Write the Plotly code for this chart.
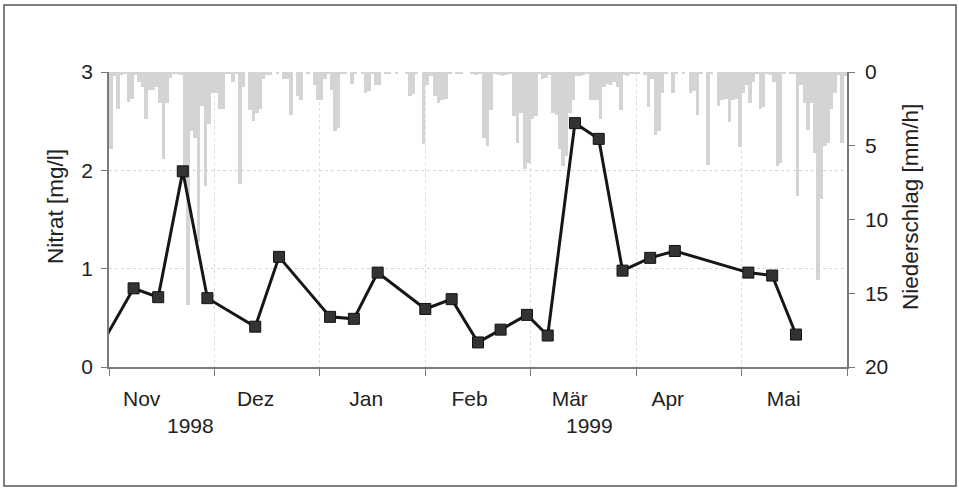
import calendar
import plotly.graph_objects as go

# ---------------- data ----------------
month_labels = ["Nov", "Dez", "Jan", "Feb", "Mär", "Apr", "Mai"]
month_list = [(1998, 11), (1998, 12), (1999, 1), (1999, 2), (1999, 3), (1999, 4), (1999, 5)]
month_label_pos = [0.31, 1.39, 2.44, 3.42, 4.37, 5.30, 6.40]
year_labels = ["1998", "1999"]
year_label_pos = [0.77, 4.56]
title_left = "Nitrat [mg/l]"
title_right = "Niederschlag [mm/h]"

sample_dates = [
    "1998-10-31", "1998-11-08", "1998-11-15", "1998-11-22", "1998-11-29",
    "1998-12-13", "1998-12-20", "1999-01-04", "1999-01-11", "1999-01-18",
    "1999-02-01", "1999-02-08", "1999-02-15", "1999-02-21", "1999-02-28",
    "1999-03-06", "1999-03-14", "1999-03-21", "1999-03-28", "1999-04-05",
    "1999-04-12", "1999-05-03", "1999-05-10", "1999-05-17",
]
nitrat = [
    0.30, 0.80, 0.71, 1.99, 0.70,
    0.41, 1.12, 0.51, 0.49, 0.96,
    0.59, 0.69, 0.25, 0.38, 0.53,
    0.32, 2.48, 2.32, 0.98, 1.11,
    1.18, 0.96, 0.93, 0.33,
]

# daily maximum precipitation intensity [mm/h]
precip_nov = [5.2, 0.3, 2.5, 0.2, 0.1, 2.0, 1.8, 0.2, 0.7, 1.0,
              3.2, 1.2, 1.2, 1.0, 2.1, 5.9, 2.1, 0.4, 0.1, 0.1,
              0.2, 6.4, 15.8, 4.0, 4.5, 11.5, 2.3, 7.7, 3.5, 1.4]
precip_dec = [1.4, 2.5, 2.5, 0.1, 0.1, 0.7, 0.1, 7.6, 1.0, 0.0,
              2.6, 3.3, 2.8, 2.5, 0.5, 0.2, 0.2, 0.0, 0.1, 0.0,
              0.5, 0.5, 2.9, 0.0, 1.6, 1.9, 0.0, 0.1, 0.0, 0.9, 1.9]
precip_jan = [1.9, 0.5, 0.1, 1.2, 4.0, 3.8, 0.1, 0.1, 0.0, 0.8,
              0.1, 0.0, 0.1, 1.4, 1.3, 0.1, 0.9, 0.9, 0.0, 0.1,
              0.1, 0.0, 0.1, 0.0, 0.0, 0.1, 1.6, 1.5, 0.1, 0.0, 4.9]
precip_feb = [0.9, 0.3, 1.6, 2.1, 1.9, 1.8, 0.1, 0.0, 0.1, 0.1,
              0.0, 0.0, 0.1, 0.2, 0.1, 4.5, 5.0, 2.6, 0.1, 0.2,
              0.3, 0.2, 0.1, 3.0, 4.8, 2.8, 6.6, 6.2]
precip_mar = [3.2, 3.0, 0.1, 0.5, 0.4, 0.2, 2.8, 2.9, 5.2, 6.4,
              5.7, 2.8, 1.9, 0.3, 0.3, 0.2, 0.1, 1.9, 1.9, 1.9,
              3.2, 1.0, 0.8, 0.9, 0.7, 1.0, 2.6, 0.2, 0.3, 0.1, 0.1]
precip_apr = [0.1, 0.0, 0.2, 2.4, 0.5, 4.3, 4.0, 1.4, 0.1, 0.0,
              1.4, 0.1, 0.0, 0.1, 0.0, 1.4, 1.3, 2.9, 0.1, 0.0,
              6.3, 0.1, 0.0, 2.3, 1.9, 1.8, 3.4, 1.9, 1.8, 5.1]
precip_may = [1.4, 0.9, 2.1, 0.7, 0.1, 2.5, 2.4, 0.1, 0.2, 0.7,
              6.4, 6.2, 0.1, 0.0, 0.1, 0.1, 8.4, 0.9, 2.1, 3.9,
              2.1, 5.5, 14.1, 8.6, 5.0, 4.8, 2.5, 1.4, 0.2, 4.8, 0.3]
precip_by_month = [precip_nov, precip_dec, precip_jan, precip_feb,
                   precip_mar, precip_apr, precip_may]


# ---------------- helpers ----------------
def date_pos(s):
    y, m, d = (int(v) for v in s.split("-"))
    idx = (y - 1998) * 12 + m - 11
    n = calendar.monthrange(y, m)[1]
    return idx + (d - 1) / n


bar_x, bar_w, bar_y = [], [], []
for i, ((yy, mm), vals) in enumerate(zip(month_list, precip_by_month)):
    n = calendar.monthrange(yy, mm)[1]
    for d, v in enumerate(vals, start=1):
        bar_x.append(i + (d - 0.5) / n)
        bar_w.append(1.0 / n)
        bar_y.append(v)

nx = [date_pos(s) for s in sample_dates]
msize = [0] + [11] * (len(nitrat) - 1)

FONT = "Liberation Sans, Arial, sans-serif"
TXT = "#222222"
AX = "#7a7a7a"
TICKSIZE = 21
TITLESIZE = 22.5

fig = go.Figure()
fig.add_trace(go.Bar(
    x=bar_x, y=bar_y, width=bar_w, yaxis="y",
    marker=dict(color="#d4d4d4", line=dict(width=0)),
    showlegend=False, hoverinfo="skip",
))
fig.add_trace(go.Scatter(
    x=nx, y=nitrat, yaxis="y2", mode="lines+markers",
    line=dict(color="#161616", width=3),
    marker=dict(symbol="square", size=msize, color="#333333", opacity=1,
                line=dict(color="#111111", width=1)),
    showlegend=False,
))

W, H = 959, 491
L, R, T, B = 109, 112, 72, 124
pw, ph = W - L - R, H - T - B


def px2paper(px, py):
    return (px - L) / pw, (H - B - py) / ph


fx0, fy0 = px2paper(4, 486)
fx1, fy1 = px2paper(956, 5)

annotations = []
for txt, xp in zip(year_labels, year_label_pos):
    annotations.append(dict(x=xp, xref="x", y=(367 - 425) / ph, yref="paper",
                            text=txt, showarrow=False,
                            font=dict(family=FONT, size=TICKSIZE, color=TXT),
                            xanchor="center", yanchor="middle"))
tlx, tly = px2paper(55, 207)
trx, _ = px2paper(910, 207)
annotations.append(dict(x=tlx, y=tly, xref="paper", yref="paper", text=title_left,
                        textangle=-90, showarrow=False, xanchor="center", yanchor="middle",
                        font=dict(family=FONT, size=TITLESIZE, color=TXT)))
annotations.append(dict(x=trx, y=tly, xref="paper", yref="paper", text=title_right,
                        textangle=-90, showarrow=False, xanchor="center", yanchor="middle",
                        font=dict(family=FONT, size=TITLESIZE, color=TXT)))

fig.update_layout(
    width=W, height=H,
    margin=dict(l=L, r=R, t=T, b=B, pad=0),
    paper_bgcolor="white", plot_bgcolor="white",
    bargap=0,
    font=dict(family=FONT, size=TICKSIZE, color=TXT),
    xaxis=dict(
        range=[0, 7], tickmode="array", tickvals=month_label_pos,
        ticktext=month_labels, ticks="", showgrid=False, zeroline=False,
        showline=True, linecolor=AX, linewidth=1.5,
        ticklabelstandoff=12,
        tickfont=dict(family=FONT, size=TICKSIZE, color=TXT),
        minor=dict(tickmode="array", tickvals=list(range(8)), ticks="outside",
                   ticklen=7, tickcolor=AX, tickwidth=1,
                   showgrid=True, gridcolor="#dcdcdc", griddash="dot", gridwidth=1),
    ),
    yaxis=dict(
        side="right", range=[20, 0], tickmode="array",
        tickvals=[0, 5, 10, 15, 20], ticks="outside", ticklen=6,
        tickcolor=AX, showline=True, linecolor=AX, linewidth=1.5,
        showgrid=False, zeroline=False, ticklabelstandoff=6,
        tickfont=dict(family=FONT, size=TICKSIZE, color=TXT),
    ),
    yaxis2=dict(
        overlaying="y", side="left", range=[0, 3], tickmode="array",
        tickvals=[0, 1, 2, 3], ticks="outside", ticklen=6, tickcolor=AX,
        showline=True, linecolor=AX, linewidth=1.5,
        showgrid=True, gridcolor="#d6d6d6", griddash="dot", gridwidth=1,
        zeroline=False, ticklabelstandoff=4,
        tickfont=dict(family=FONT, size=TICKSIZE, color=TXT),
    ),
    shapes=[dict(type="rect", xref="paper", yref="paper",
                 x0=fx0, x1=fx1, y0=fy0, y1=fy1,
                 line=dict(color="#555555", width=1.5), layer="below")],
    annotations=annotations,
)

fig.write_html("out.html", config={"displayModeBar": False},
               post_script="document.body.style.margin='0';")
